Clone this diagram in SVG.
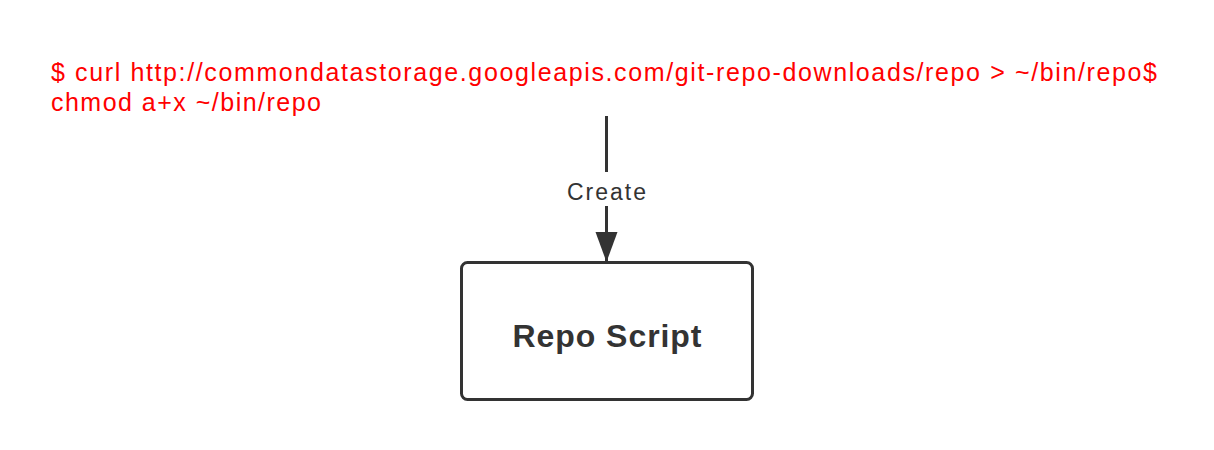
<svg xmlns="http://www.w3.org/2000/svg" width="1214" height="450" viewBox="0 0 1214 450">
<style>
.cmd{font-family:"Liberation Sans",Arial,sans-serif;font-size:25px;fill:#ff0000}
.lbl{font-family:"Liberation Sans",Arial,sans-serif;font-size:23px;fill:#333333;text-anchor:middle}
.title{font-family:"Liberation Sans",Arial,sans-serif;font-size:32px;font-weight:bold;fill:#333333;text-anchor:middle}
.edge{stroke:#333333;stroke-width:3;fill:none}
</style>
<defs>
<marker id="arr" markerUnits="userSpaceOnUse" markerWidth="32" markerHeight="24" refX="30" refY="11" orient="auto">
<path d="M0,0 L30,11 L0,22 Z" fill="#333333"/>
</marker>
</defs>
<rect width="1214" height="450" fill="#ffffff"/>
<g id="note">
<text class="cmd" x="51" y="81" textLength="1106" lengthAdjust="spacing">$ curl http://commondatastorage.googleapis.com/git-repo-downloads/repo &gt; ~/bin/repo$</text>
<text class="cmd" x="51" y="111" textLength="270" lengthAdjust="spacing">chmod a+x ~/bin/repo</text>
</g>
<g id="connectors">
<line class="edge" x1="606.5" y1="116" x2="606.5" y2="172"/>
<line class="edge" x1="606.5" y1="206" x2="606.5" y2="262" marker-end="url(#arr)"/>
<text class="lbl" x="606.5" y="200" textLength="79" lengthAdjust="spacing">Create</text>
</g>
<g id="repo-script">
<rect x="461.5" y="262.5" width="291" height="137" rx="6" fill="#ffffff" stroke="#333333" stroke-width="3"/>
<text class="title" x="607" y="347" textLength="189" lengthAdjust="spacing">Repo Script</text>
</g>
</svg>
